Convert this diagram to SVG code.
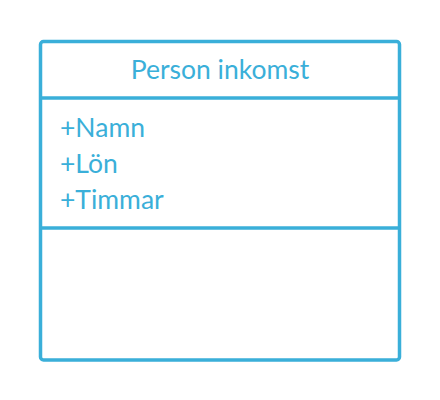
<svg xmlns="http://www.w3.org/2000/svg" width="440" height="400" viewBox="0 0 440 400">
<style>
.s{fill:none;stroke:#3aafd9;stroke-width:3.5}
.t{font-family:Lato,"Noto Sans",sans-serif;font-size:26.5px;fill:#3aafd9}
</style>
<rect width="440" height="400" fill="#fff"/>
<g id="class-person-inkomst">
<rect class="s" x="40.5" y="41.5" width="359" height="318.5" rx="3"/>
<line class="s" x1="40.5" y1="98" x2="399.5" y2="98"/>
<line class="s" x1="40.5" y1="228" x2="399.5" y2="228"/>
<text class="t" x="220" y="79" text-anchor="middle">Person inkomst</text>
<text class="t" x="60" y="137">+Namn</text>
<text class="t" x="60" y="173">+Lön</text>
<text class="t" x="60" y="209">+Timmar</text>
</g>
<g id="connectors"/>
</svg>
